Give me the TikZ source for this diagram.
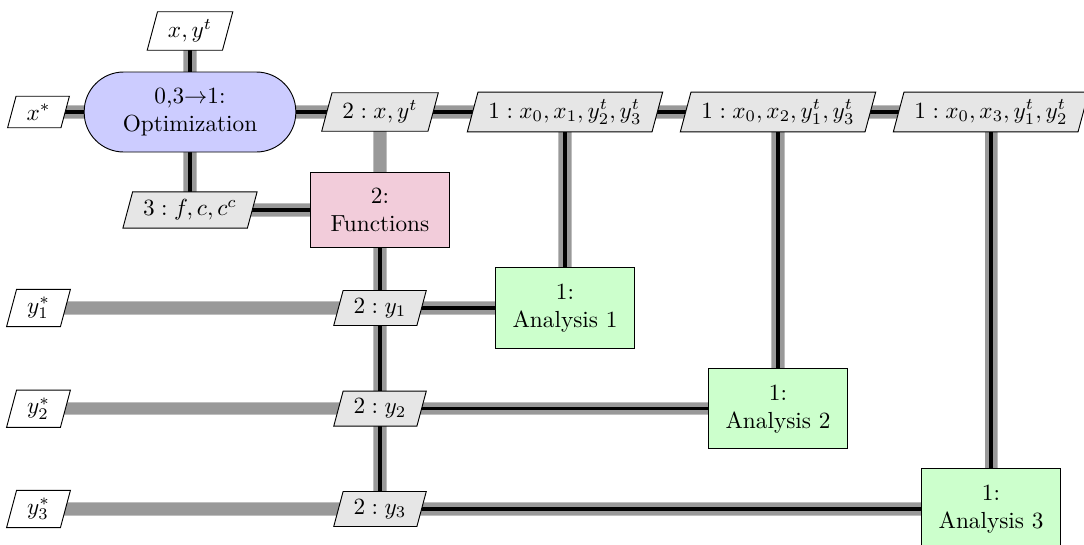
\documentclass[tikz,border=0pt]{standalone}
\usetikzlibrary{shapes.geometric}
\definecolor{optfill}{RGB}{204,204,255}
\definecolor{funfill}{RGB}{242,204,218}
\definecolor{anfill}{RGB}{204,255,204}
\definecolor{datafill}{RGB}{230,230,230}
\definecolor{lineg}{RGB}{153,153,153}
\definecolor{linerim}{RGB}{190,190,190}
\pgfdeclarelayer{bg}
\pgfsetlayers{bg,main}
\begin{document}
\begin{tikzpicture}[x=0.43pt,y=-0.43pt,
  optbox/.style={draw, fill=optfill, rounded corners=17pt, minimum width=91pt, inner xsep=0pt, inner ysep=6.9pt, align=center},
  funbox/.style={draw, fill=funfill, minimum width=60pt, inner xsep=0pt, inner ysep=6.9pt, align=center},
  anbox/.style={draw, fill=anfill, minimum width=60pt, inner xsep=0pt, inner ysep=6.9pt, align=center},
  databox/.style={draw, fill=datafill, trapezium, trapezium left angle=75, trapezium right angle=105, inner xsep=4.5pt},
  iobox/.style={databox, fill=white},
  gline/.style={lineg, line width=4.8pt, preaction={draw=linerim, line width=5.6pt}},
  pline/.style={black, line width=1.4pt}]
\useasboundingbox (0,0) rectangle (1084,545);
% nodes
\node[iobox] (xyt) at (190,31) {$x, y^t$};
\node[iobox] (xs) at (38.5,112) {$x^*$};
\node[optbox] (opt) at (190,112) {0,3$\to$1:\\Optimization};
\node[databox] (d2xy) at (380,112) {$2: x, y^t$};
\node[databox] (d1a) at (565,112) {$1: x_0, x_1, y_2^t, y_3^t$};
\node[databox] (d1b) at (778,112) {$1: x_0, x_2, y_1^t, y_3^t$};
\node[databox] (d1c) at (991,112) {$1: x_0, x_3, y_1^t, y_2^t$};
\node[databox] (d3f) at (190,210) {$3: f, c, c^c$};
\node[funbox] (fun) at (380,210) {2:\\Functions};
\node[iobox] (ys1) at (38.5,308) {$y_1^*$};
\node[databox] (dy1) at (380,308) {$2: y_1$};
\node[anbox] (an1) at (565,308) {1:\\Analysis 1};
\node[iobox] (ys2) at (38.5,408.7) {$y_2^*$};
\node[databox] (dy2) at (380,408.7) {$2: y_2$};
\node[anbox] (an2) at (778,408.7) {1:\\Analysis 2};
\node[iobox] (ys3) at (38.5,509) {$y_3^*$};
\node[databox] (dy3) at (380,509) {$2: y_3$};
\node[anbox] (an3) at (991,509) {1:\\Analysis 3};
% connectors
\begin{pgfonlayer}{bg}
\draw[gline] (xyt.center) -- (opt.center);
\draw[gline] (xs.center) -- (opt.center);
\draw[gline] (opt.center) -- (d2xy.center) -- (d1a.center) -- (d1b.center) -- (d1c.center);
\draw[gline] (opt.center) -- (d3f.center) -- (fun.center);
\draw[gline] (d2xy.center) -- (fun.center);
\draw[gline] (fun.center) -- (dy1.center) -- (dy2.center) -- (dy3.center);
\draw[gline] (dy1.center) -- (an1.center);
\draw[gline] (dy2.center) -- (an2.center);
\draw[gline] (dy3.center) -- (an3.center);
\draw[gline] (d1a.center) -- (an1.center);
\draw[gline] (d1b.center) -- (an2.center);
\draw[gline] (d1c.center) -- (an3.center);
\draw[gline] (ys1.center) -- (dy1.center);
\draw[gline] (ys2.center) -- (dy2.center);
\draw[gline] (ys3.center) -- (dy3.center);
\draw[pline] (xyt.center) -- (opt.center);
\draw[pline] (xs.center) -- (opt.center);
\draw[pline] (opt.center) -- (d2xy.center) -- (d1a.center) -- (d1b.center) -- (d1c.center);
\draw[pline] (opt.center) -- (d3f.center) -- (fun.center);
\draw[pline] (fun.center) -- (dy1.center) -- (dy2.center) -- (dy3.center);
\draw[pline] (dy1.center) -- (an1.center);
\draw[pline] (dy2.center) -- (an2.center);
\draw[pline] (dy3.center) -- (an3.center);
\draw[pline] (d1a.center) -- (an1.center);
\draw[pline] (d1b.center) -- (an2.center);
\draw[pline] (d1c.center) -- (an3.center);
\end{pgfonlayer}
\end{tikzpicture}
\end{document}
